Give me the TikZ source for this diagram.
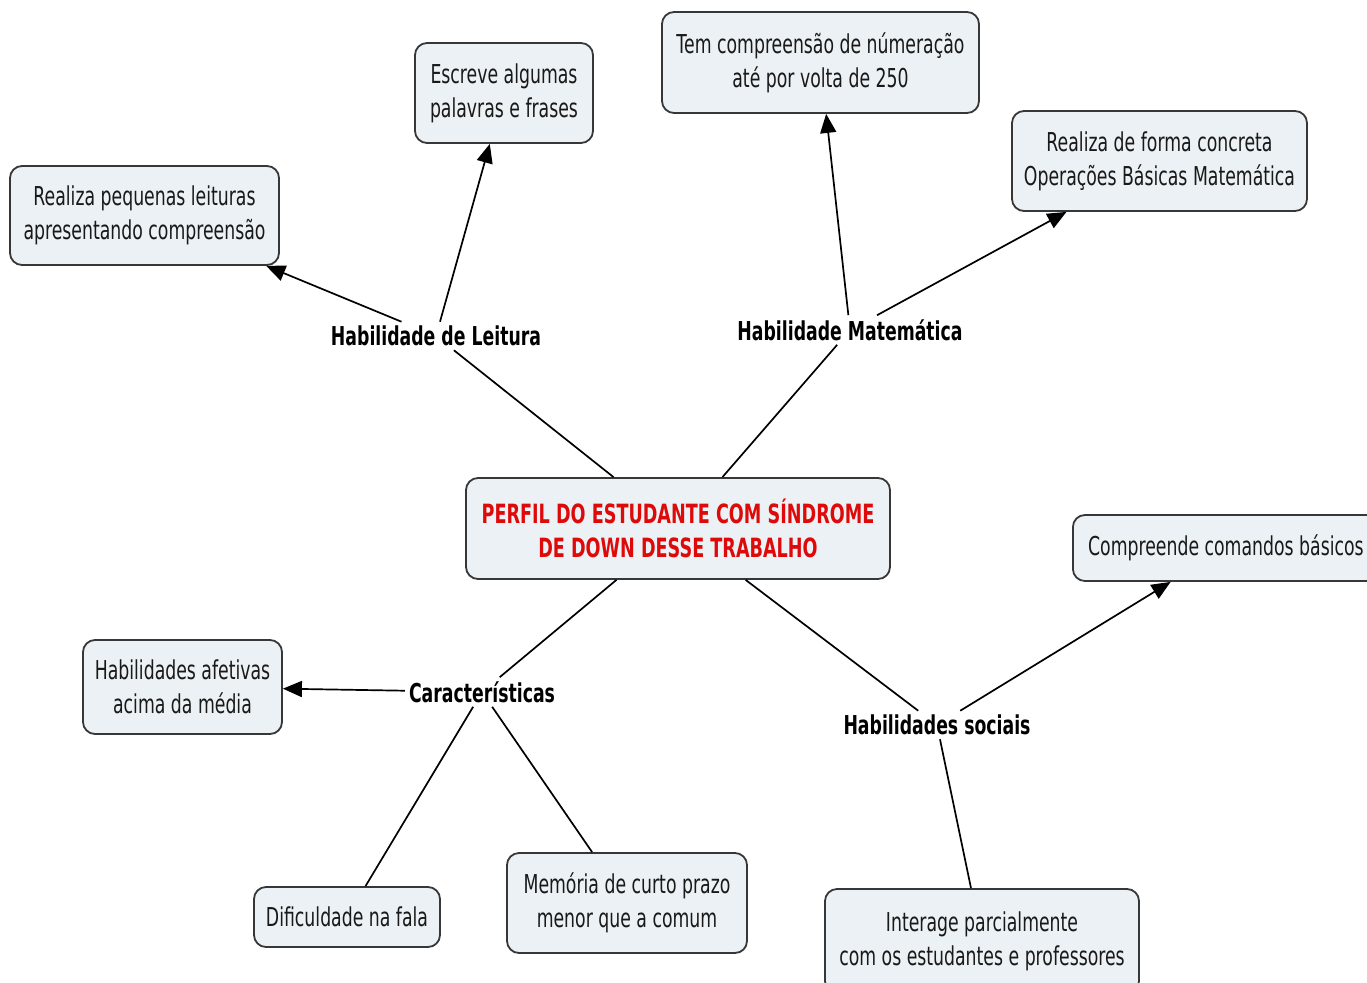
\documentclass[tikz,border=0pt]{standalone}
\usepackage{fontspec}
\setmainfont{DejaVu Sans}[FakeStretch=0.665]
\usetikzlibrary{arrows.meta}
\definecolor{boxfill}{RGB}{235,241,244}
\definecolor{boxline}{RGB}{55,55,55}
\definecolor{txt}{RGB}{25,25,25}
\definecolor{redtxt}{RGB}{222,10,10}
\tikzset{
  concept/.style={draw=boxline, fill=boxfill, line width=1.8pt, rounded corners=12pt,
    align=center, text=txt, font=\fontsize{26}{34}\selectfont, inner sep=2pt},
  linklabel/.style={font=\bfseries\fontsize{26}{30}\selectfont, text=black, inner sep=4pt},
  conn/.style={line width=1.7pt, draw=black},
  arr/.style={conn, -{Triangle[length=19pt,width=16pt]}},
}
\begin{document}
\begin{tikzpicture}[x=1pt,y=-1pt]
\useasboundingbox (0,0) rectangle (1367,982);
% concept boxes
\node[concept, minimum width=178pt, minimum height=100pt] (escreve) at (504,93) {Escreve algumas\\palavras e frases};
\node[concept, minimum width=317pt, minimum height=101pt] (tem) at (820.5,62.5) {Tem compreensão de númeração\\até por volta de 250};
\node[concept, minimum width=295pt, minimum height=100pt] (realizaop) at (1159.5,161) {Realiza de forma concreta\\Operações Básicas Matemática};
\node[concept, minimum width=269pt, minimum height=99pt] (realizalei) at (144.5,215.5) {Realiza pequenas leituras\\apresentando compreensão};
\node[concept, minimum width=424pt, minimum height=101pt, text=redtxt, font=\bfseries\fontsize{26.5}{34}\selectfont] (perfil) at (678,528.5) {PERFIL DO ESTUDANTE COM SÍNDROME\\DE DOWN DESSE TRABALHO};
\node[concept, minimum width=306pt, minimum height=66pt, anchor=west] (compreende) at (1072,548) {Compreende comandos básicos};
\node[concept, minimum width=199pt, minimum height=94pt] (afetivas) at (182.5,687) {Habilidades afetivas\\acima da média};
\node[concept, minimum width=186pt, minimum height=60pt] (fala) at (347,917) {Dificuldade na fala};
\node[concept, minimum width=240pt, minimum height=100pt] (memoria) at (627,903) {Memória de curto prazo\\menor que a comum};
\node[concept, minimum width=314pt, minimum height=104pt] (interage) at (982,941) {Interage parcialmente\\com os estudantes e professores};
% link labels
\node[linklabel] (leitura) at (436,336) {Habilidade de Leitura};
\node[linklabel] (matematica) at (850,330) {Habilidade Matemática};
\node[linklabel] (caracteristicas) at (482,692) {Características};
\node[linklabel] (sociais) at (937,725) {Habilidades sociais};
% connectors
\draw[conn] (perfil) -- (leitura);
\draw[arr] (leitura) -- (realizalei);
\draw[arr] (leitura) -- (escreve);
\draw[conn] (perfil) -- (matematica);
\draw[arr] (matematica) -- (tem);
\draw[arr] (matematica) -- (realizaop);
\draw[conn] (perfil) -- (caracteristicas);
\draw[arr] (caracteristicas) -- (afetivas);
\draw[conn] (caracteristicas) -- (fala);
\draw[conn] (caracteristicas) -- (memoria);
\draw[conn] (perfil) -- (sociais);
\draw[arr] (sociais) -- (compreende);
\draw[conn] (sociais) -- (interage);
\end{tikzpicture}
\end{document}
